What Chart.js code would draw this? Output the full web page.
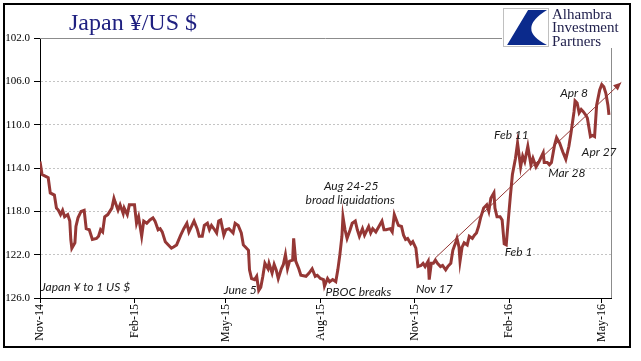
<!DOCTYPE html>
<html>
<head>
<meta charset="utf-8">
<script src="https://cdn.jsdelivr.net/npm/chart.js@4.4.0/dist/chart.umd.min.js"></script>
<style>
  html, body { margin: 0; padding: 0; background: #fff; }
</style>
</head>
<body>
<canvas id="yenChart" width="641" height="361"></canvas>
<script>
// days counted from 1 Nov 2014, yen per 1 US $
const days = [0,2,6,8,10,14,16,18,20,22,24,27,29,30,31,34,35,37,40,43,45,48,51,55,57,59,61,63,66,68,70,72,73,76,78,81,82,85,87,90,92,94,96,99,101,104,107,110,112,115,117,119,122,125,128,130,133,137,140,143,145,148,150,153,155,158,160,163,165,167,170,172,174,176,179,181,184,188,190,193,196,198,200,203,204,206,209,211,213,215,217,219,222,223,226,228,230,232,235,237,239,241,243,246,247,249,252,254,259,262,265,268,270,273,276,277,280,282,285,288,290,292,294,295,297,299,302,304,307,309,311,314,316,320,322,324,327,330,333,335,337,341,343,345,347,349,352,354,356,358,361,363,366,368,371,373,375,378,379,381,383,385,387,390,392,395,397,400,402,405,406,408,409,411,413,416,418,421,423,425,427,429,432,435,437,439,442,443,445,448,450,452,454,456,458,460,463,465,468,470,472,475,478,480,483,486,490,491,494,496,498,501,503,506,509,512,515,517,520,521,523,525,527,529,532,533,536,538,540,542,545,547,549,551,553,554];
const yen = [113.4,114.6,114.8,114.9,116.3,116.5,117.7,117.9,118.3,117.9,118.5,118.3,118.9,120.6,121.4,120.9,119.4,118.6,118.0,117.9,119.6,119.7,120.6,120.5,120.3,119.7,119.9,118.5,118.3,118.0,117.7,116.8,117.1,117.9,117.4,118.2,117.7,118.3,117.4,117.4,117.4,119.1,118.5,120.3,118.9,119.1,118.8,118.6,118.9,119.7,119.6,119.9,120.8,121.1,121.4,121.3,121.1,120.2,119.6,119.1,119.9,119.3,118.9,119.6,120.3,120.3,119.3,119.1,119.7,119.3,119.7,120.0,118.9,118.8,120.2,119.7,119.6,120.0,119.1,119.3,120.0,121.1,121.3,121.6,123.4,124.2,124.3,124.0,125.3,125.0,124.0,122.8,123.3,122.8,123.7,122.9,123.4,124.2,123.3,122.9,122.0,123.3,122.6,122.5,120.5,122.6,123.3,123.9,124.0,123.7,123.3,124.0,123.9,124.2,124.3,124.9,124.2,124.5,124.3,124.5,123.4,122.0,120.3,118.5,119.7,120.5,119.7,119.1,118.9,119.7,120.3,119.6,120.2,119.4,120.0,119.6,119.9,119.4,118.9,119.7,119.7,119.6,119.9,118.3,118.8,119.3,119.4,120.2,120.6,120.5,121.0,120.8,121.4,123.1,123.0,122.8,123.1,122.6,124.3,122.8,122.8,122.5,122.8,123.1,123.0,123.4,123.1,122.8,121.6,120.8,120.5,121.3,122.6,121.3,120.9,121.1,120.3,120.5,120.2,120.0,119.4,118.6,117.7,117.4,118.0,116.8,116.3,117.7,118.5,118.5,118.8,121.0,121.1,118.8,116.6,114.6,113.1,111.7,113.9,112.9,113.4,112.0,113.7,113.1,113.9,113.4,112.6,113.5,113.5,113.7,113.5,111.9,111.2,111.7,112.5,113.2,112.0,110.8,108.8,107.8,108.0,108.9,108.6,108.8,109.2,109.4,111.1,111.0,111.1,108.2,106.8,106.3,106.5,107.1,108.2,109.1];

const tickDays = [0, 92, 181, 273, 365, 457, 547];
const tickLabels = ["Nov-14", "Feb-15", "May-15", "Aug-15", "Nov-15", "Feb-16", "May-16"];

// trend arrow: [day, yen] start and end
const trendFrom = [385, 122.3];
const trendTo = [566, 106.1];

// notes: text, day, yen, align
const notes = [
  ["Japan \u00a5 to 1 US $", 1, 125.0, "left"],
  ["June 5", 195, 125.3, "center"],
  ["PBOC breaks", 310, 125.5, "center"],
  ["Nov 17", 384, 125.2, "center"],
  ["Feb 1", 466, 121.75, "center"],
  ["Aug 24-25", 303, 115.65, "center"],
  ["broad liquidations", 302, 117.0, "center"],
  ["Feb 11", 459, 111.0, "center"],
  ["Mar 28", 513, 114.5, "center"],
  ["Apr 27", 544.5, 112.5, "center"],
  ["Apr 8", 520, 107.1, "center"],
];

const lineColor = "#953735";
const points = days.map((d, i) => ({ x: d, y: yen[i] }));

const decor = {
  id: "decor",
  afterDraw(chart) {
    const { ctx, chartArea: a, scales } = chart;
    const x = scales.x, y = scales.y;
    ctx.save();

    // plot border top and right
    ctx.strokeStyle = "#8c8c8c";
    ctx.lineWidth = 1;
    ctx.beginPath();
    ctx.moveTo(a.left, Math.round(a.top) + 0.5);
    ctx.lineTo(a.right, Math.round(a.top) + 0.5);
    ctx.moveTo(Math.round(a.right) + 0.5, a.top);
    ctx.lineTo(Math.round(a.right) + 0.5, a.bottom);
    ctx.stroke();

    // trend arrow
    const x1 = x.getPixelForValue(trendFrom[0]), y1 = y.getPixelForValue(trendFrom[1]);
    const x2 = x.getPixelForValue(trendTo[0]), y2 = y.getPixelForValue(trendTo[1]);
    ctx.strokeStyle = lineColor;
    ctx.fillStyle = lineColor;
    ctx.lineWidth = 1;
    ctx.beginPath();
    ctx.moveTo(x1, y1);
    ctx.lineTo(x2, y2);
    ctx.stroke();
    const ang = Math.atan2(y2 - y1, x2 - x1);
    ctx.beginPath();
    ctx.moveTo(x2, y2);
    ctx.lineTo(x2 - 8 * Math.cos(ang) + 3.5 * Math.sin(ang), y2 - 8 * Math.sin(ang) - 3.5 * Math.cos(ang));
    ctx.lineTo(x2 - 8 * Math.cos(ang) - 3.5 * Math.sin(ang), y2 - 8 * Math.sin(ang) + 3.5 * Math.cos(ang));
    ctx.closePath();
    ctx.fill();

    // notes
    ctx.fillStyle = "#1a1a1a";
    ctx.font = "italic 12px Lato";
    ctx.textBaseline = "middle";
    notes.forEach(n => {
      ctx.textAlign = n[3];
      ctx.fillText(n[0], x.getPixelForValue(n[1]), y.getPixelForValue(n[2]));
    });

    // title
    ctx.fillStyle = "#1f2080";
    ctx.font = "24px 'Liberation Serif'";
    ctx.textAlign = "left";
    ctx.fillText("Japan \u00a5/US $", 69, 24);

    // logo
    ctx.fillStyle = "#fff";
    ctx.fillRect(502, 5, 126, 43);
    ctx.strokeStyle = "#c0c0c0";
    ctx.strokeRect(503.5, 8.5, 45, 38);
    const lx = 505, ly = 10, lw = 42, lh = 35;
    ctx.fillStyle = "#0b2a8c";
    ctx.beginPath();
    ctx.moveTo(lx + 0.55 * lw, ly);
    ctx.lineTo(lx + lw, ly);
    ctx.quadraticCurveTo(lx + 0.25 * lw, ly + 0.55 * lh, lx + lw, ly + lh);
    ctx.lineTo(lx + 0.05 * lw, ly + lh);
    ctx.closePath();
    ctx.fill();
    ctx.fillStyle = "#22224e";
    ctx.font = "15px 'Liberation Serif'";
    ctx.fillText("Alhambra", 552, 15);
    ctx.fillText("Investment", 552, 28.5);
    ctx.fillText("Partners", 552, 42);

    // outer frame
    ctx.strokeStyle = "#000";
    ctx.lineWidth = 2;
    ctx.strokeRect(4, 4, 626, 343);
    ctx.restore();
  }
};

new Chart(document.getElementById("yenChart"), {
  type: "line",
  data: {
    datasets: [{
      data: points,
      borderColor: lineColor,
      borderWidth: 3,
      pointRadius: 0,
      tension: 0,
    }],
  },
  options: {
    responsive: false,
    animation: false,
    layout: { padding: { top: 38, right: 30, left: 0, bottom: 0 } },
    plugins: { legend: { display: false }, tooltip: { enabled: false } },
    scales: {
      x: {
        type: "linear",
        min: 0,
        max: 556,
        afterBuildTicks: (s) => { s.ticks = tickDays.map(v => ({ value: v })); },
        afterFit: (s) => { s.height = 63; },
        grid: { drawOnChartArea: false, drawTicks: true, tickLength: 5, tickColor: "#000" },
        border: { color: "#000", width: 1 },
        ticks: {
          autoSkip: false,
          minRotation: 90,
          maxRotation: 90,
          padding: 1,
          color: "#000",
          font: { family: "'Liberation Serif'", size: 12 },
          callback: (v) => tickLabels[tickDays.indexOf(v)],
        },
      },
      y: {
        reverse: true,
        min: 102,
        max: 126,
        afterFit: (s) => { s.width = 40; },
        grid: {
          color: (c) => (c.tick && c.tick.value > 102 ? "#c4c4c4" : "rgba(0,0,0,0)"),
          tickLength: 6,
          tickColor: "#000",
        },
        border: { color: "#000", width: 1, dash: [2, 2] },
        ticks: {
          stepSize: 4,
          padding: 4,
          color: "#000",
          font: { family: "'Liberation Serif'", size: 11 },
          callback: (v) => v.toFixed(1),
        },
      },
    },
  },
  plugins: [decor],
});
</script>
</body>
</html>
